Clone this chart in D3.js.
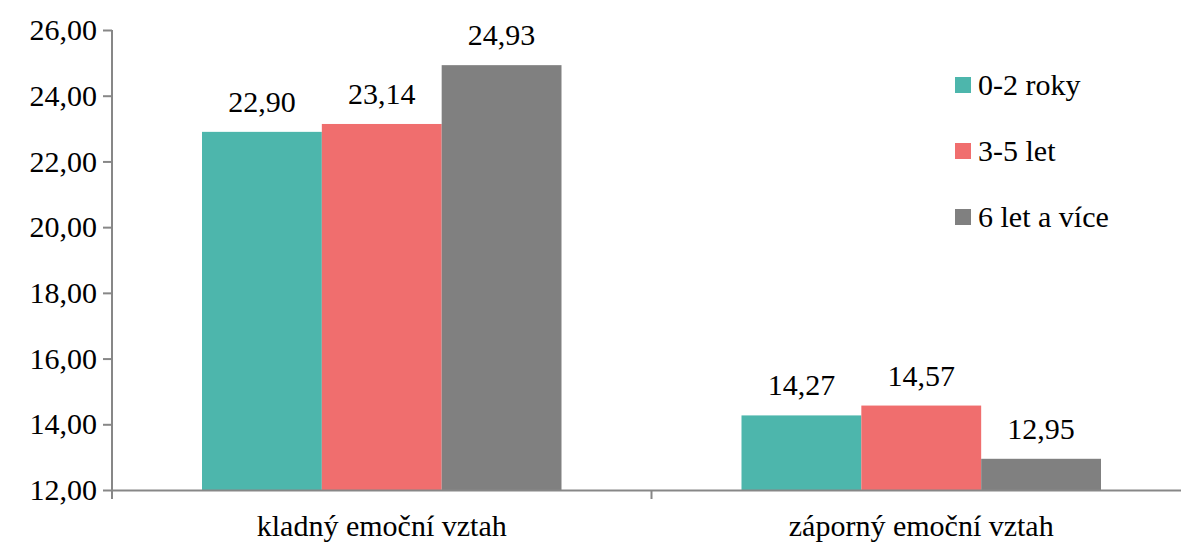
<!DOCTYPE html>
<html>
<head>
<meta charset="utf-8">
<script src="https://cdn.jsdelivr.net/npm/d3@7"></script>
</head>
<body style="margin:0">
<script>
// data
var categories = ['kladný emoční vztah', 'záporný emoční vztah'];
var seriesNames = ['0-2 roky', '3-5 let', '6 let a více'];
var values02 = [22.90, 14.27];
var values35 = [23.14, 14.57];
var values6 = [24.93, 12.95];
var yTicks = [12, 14, 16, 18, 20, 22, 24, 26];
var colors = ['#4db6ac', '#f06e6e', '#808080'];

var svgWidth = 1181, svgHeight = 543;
var plotLeft = 112, plotRight = 1191, plotTop = 30, plotBottom = 490;
var fontName = 'Liberation Serif';
var serifFont = function () { return "'" + fontName + "'"; };

var svg = d3.select('body')
    .append('svg')
    .attr('width', svgWidth)
    .attr('height', svgHeight);

var x0 = d3.scaleBand().domain(categories).range([plotLeft, plotRight]).padding(0);
var x1 = d3.scaleBand().domain(seriesNames).range([90, x0.bandwidth() - 90]).padding(0);
var y = d3.scaleLinear().domain([12, 26]).range([plotBottom, plotTop]);

var fmt = function (v) { return d3.format('.2f')(v).replace('.', ','); };

// flat list of bars
var bars = [];
categories.forEach(function (c, i) {
    [values02[i], values35[i], values6[i]].forEach(function (v, j) {
        bars.push({ cat: c, s: seriesNames[j], v: v, j: j });
    });
});
var barX = function (d) { return x0(d.cat) + x1(d.s); };

svg.selectAll('rect.bar')
    .data(bars)
    .enter()
    .append('rect')
    .attr('class', 'bar')
    .attr('x', barX)
    .attr('width', x1.bandwidth())
    .attr('y', function (d) { return y(d.v); })
    .attr('height', function (d) { return y(12) - y(d.v); })
    .attr('fill', function (d) { return colors[d.j]; });

// value labels, straight under svg
svg.selectAll('text.val')
    .data(bars)
    .enter()
    .append('text')
    .attr('class', 'val')
    .attr('x', function (d) { return barX(d) + x1.bandwidth() / 2; })
    .attr('y', function (d) { return y(d.v) - 20; })
    .attr('text-anchor', 'middle')
    .style('font-family', serifFont)
    .style('font-size', '30px')
    .text(function (d) { return fmt(d.v); });

// y axis (lines only from d3.axis)
var yAxis = svg.append('g')
    .attr('transform', 'translate(' + plotLeft + ',0)')
    .call(d3.axisLeft(y).tickValues(yTicks).tickFormat('').tickSize(9).tickSizeOuter(0));
yAxis.select('.domain').attr('stroke', '#878787').attr('stroke-width', 2)
    .attr('d', 'M0,' + plotTop + 'V' + (plotBottom + 9));
yAxis.selectAll('.tick line').attr('stroke', '#878787').attr('stroke-width', 2);
yAxis.selectAll('.tick text').remove();

svg.selectAll('text.ytick')
    .data(yTicks)
    .enter()
    .append('text')
    .attr('class', 'ytick')
    .attr('x', plotLeft - 15)
    .attr('y', function (d) { return y(d); })
    .attr('dy', '0.34em')
    .attr('text-anchor', 'end')
    .style('font-family', serifFont)
    .style('font-size', '30px')
    .text(fmt);

// x axis
var xAxis = svg.append('g')
    .attr('transform', 'translate(0,' + plotBottom + ')')
    .call(d3.axisBottom(x0).tickSize(0).tickSizeOuter(0).tickFormat(''));
xAxis.select('.domain').attr('stroke', '#878787').attr('stroke-width', 2);
xAxis.selectAll('.tick text').remove();

svg.selectAll('text.xtick')
    .data(categories)
    .enter()
    .append('text')
    .attr('class', 'xtick')
    .attr('x', function (d) { return x0(d) + x0.bandwidth() / 2; })
    .attr('y', plotBottom + 46)
    .attr('text-anchor', 'middle')
    .style('font-family', serifFont)
    .style('font-size', '30px')
    .text(function (d) { return d; });

// category separators
svg.selectAll('line.sep')
    .data(categories.slice(1))
    .enter()
    .append('line')
    .attr('x1', function (d) { return x0(d); })
    .attr('x2', function (d) { return x0(d); })
    .attr('y1', plotBottom)
    .attr('y2', plotBottom + 9)
    .attr('stroke', '#878787')
    .attr('stroke-width', 2);

// legend
svg.selectAll('rect.key')
    .data(seriesNames)
    .enter()
    .append('rect')
    .attr('class', 'key')
    .attr('x', 955)
    .attr('y', function (d, i) { return 77 + i * 66; })
    .attr('width', 16).attr('height', 16)
    .attr('fill', function (d, i) { return colors[i]; });
svg.selectAll('text.key')
    .data(seriesNames)
    .enter()
    .append('text')
    .attr('class', 'key')
    .attr('x', 978)
    .attr('y', function (d, i) { return 95 + i * 66; })
    .style('font-family', serifFont)
    .style('font-size', '30px')
    .text(function (d) { return d; });
</script>
</body>
</html>
